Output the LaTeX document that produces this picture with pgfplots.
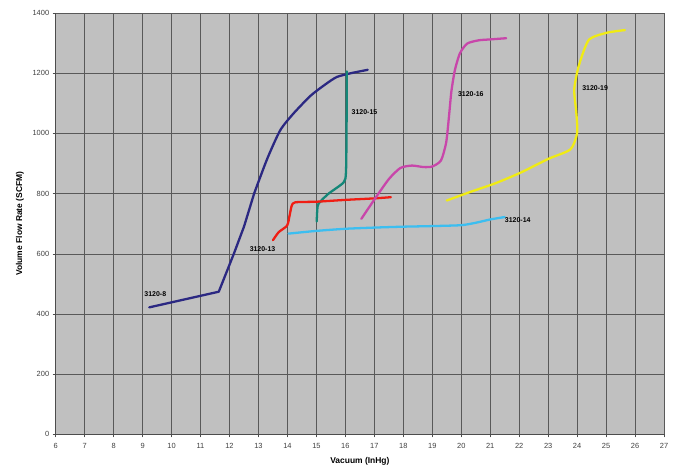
\documentclass[border=0pt]{standalone}
\usepackage{pgfplots}
\pgfplotsset{compat=1.18}
\usepackage{fontspec}
\setmainfont{Liberation Sans}
\definecolor{plotbg}{RGB}{192,192,192}
\definecolor{c8}{RGB}{43,40,130}
\definecolor{c15}{RGB}{20,135,120}
\definecolor{c13}{RGB}{240,30,20}
\definecolor{c14}{RGB}{60,190,240}
\definecolor{c16}{RGB}{200,70,170}
\definecolor{c19}{RGB}{240,235,20}
\begin{document}
\begin{tikzpicture}
\begin{axis}[
  scale only axis,
  width=612pt, height=424pt,
  xmin=6, xmax=27, ymin=0, ymax=1400,
  xtick={6,7,...,27}, ytick={0,200,...,1400},
  axis background/.style={fill=plotbg},
  grid=major,
  grid style={black!65, line width=0.5pt},
  axis x line*=bottom, axis y line*=left,
  axis line style={black!70, line width=0.6pt},
  tick style={black!70, line width=0.5pt},
  tick align=outside, major tick length=3pt,
  tick label style={font=\fontsize{7.5}{8}\selectfont, text=black!75},
  xticklabel style={yshift=-2pt},
  /pgf/number format/assume math mode=true,
  /pgf/number format/1000 sep={},
  xlabel={\textbf{Vacuum (InHg)}},
  ylabel={\textbf{Volume Flow Rate (SCFM)}},
  label style={font=\fontsize{8.5}{10}\selectfont},
  xlabel style={yshift=-2pt},
  ylabel style={yshift=2pt},
  every axis plot/.append style={line width=2.3pt, smooth, tension=0.4, no marks, line join=round, line cap=round},
  clip=false,
]
% 3120-8
\addplot[c8, sharp plot] coordinates {(9.23,422) (11.63,474) (12.15,600) (12.5,690) (12.85,800)};
\addplot[c8] coordinates {(12.85,800) (13.3,915) (13.75,1010) (14.2,1065) (14.8,1125) (15.3,1162) (15.7,1187) (16.2,1200) (16.77,1211)};
% 3120-15
\addplot[c15] coordinates {(15.01,707) (15.03,745) (15.07,766) (15.41,799) (15.94,837) (16.02,870) (16.04,1000) (16.05,1206)};
% 3120-13
\addplot[c13] coordinates {(13.5,645) (13.7,672) (13.99,694) (14.08,730) (14.15,760) (14.27,771) (15.01,773) (16.0,779) (17.0,784) (17.57,788)};
% 3120-14
\addplot[c14] coordinates {(14.04,667) (15.0,676) (16.0,683) (17.0,687) (18.0,690) (19.0,692) (20.0,695) (20.5,703) (21.0,714) (21.5,722)};
% 3120-16
\addplot[c16] coordinates {(16.55,716) (17.0,780) (17.5,848) (17.9,885) (18.3,893) (18.7,888) (19.0,890) (19.3,910) (19.48,970) (19.58,1060) (19.66,1140) (19.78,1210) (19.95,1265) (20.2,1298) (20.6,1309) (21.0,1312) (21.55,1316)};
% 3120-19
\addplot[c19] coordinates {(19.5,777) (20.3,805) (21.2,835) (22.06,870) (23.0,915) (23.77,947) (24.0,1002) (23.97,1070) (23.9,1145) (24.05,1222) (24.4,1310) (25.02,1334) (25.65,1343)};
\begin{scope}[every node/.style={font=\bfseries\fontsize{7}{8}\selectfont, inner sep=0pt}]
\node at (axis cs:9.44,466) {3120-8};
\node at (axis cs:13.14,617) {3120-13};
\node at (axis cs:16.66,1070) {3120-15};
\node at (axis cs:20.33,1130) {3120-16};
\node at (axis cs:24.62,1149) {3120-19};
\node at (axis cs:21.95,711) {3120-14};
\end{scope}
\end{axis}
\pgfresetboundingbox
\path (-56pt,-40pt) rectangle (621pt,437pt);
\end{tikzpicture}
\end{document}
